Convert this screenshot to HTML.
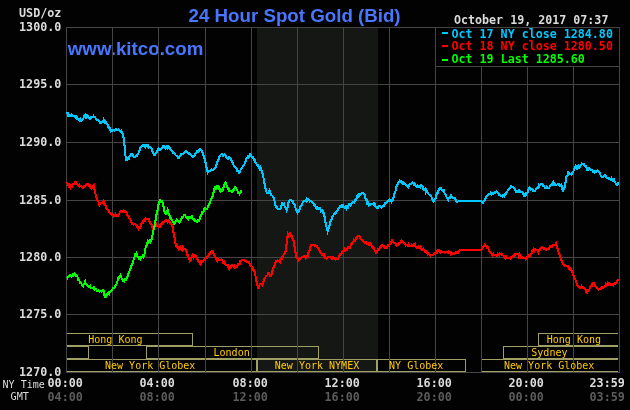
<!DOCTYPE html>
<html lang="en"><head><meta charset="utf-8"><title>24 Hour Spot Gold (Bid)</title>
<style>
html,body{margin:0;padding:0;background:#030203;}
body{width:630px;height:410px;overflow:hidden;}
svg{display:block;}
.mb{font-family:"DejaVu Sans Mono","Liberation Mono",monospace;font-weight:bold;font-size:11.4px;}
.ms{font-family:"DejaVu Sans Mono","Liberation Mono",monospace;font-weight:normal;font-size:10.7px;}
.ar{font-family:"Liberation Sans",Arial,sans-serif;font-weight:bold;font-size:18.7px;fill:#4876ff;}
</style></head><body>
<svg width="630" height="410" viewBox="0 0 630 410">
<rect x="0" y="0" width="630" height="410" fill="#030203"/>
<rect x="257" y="27" width="121" height="346" fill="#151714"/>
<text class="ar" x="188.6" y="21.7" textLength="212" lengthAdjust="spacing">24 Hour Spot Gold (Bid)</text>
<text class="ar" x="67.8" y="54.9" textLength="135.5" lengthAdjust="spacing">www.kitco.com</text>
<path d="M66.5,333.5 H192.5 V345.5 H66.5 Z M66.5,346.5 H88.5 V358.5 H66.5 Z M146.5,346.5 H318.5 V358.5 H146.5 Z M66.5,359.5 H256.5 V371.5 H66.5 Z M257.5,359.5 H376.5 V371.5 H257.5 Z M377.5,359.5 H465.5 V371.5 H377.5 Z M618,333.5 H538.5 V345.5 H618 M618,346.5 H503.5 V358.5 H618 M618,359.5 H481.5 V371.5 H618" stroke="#a0a064" stroke-width="1" fill="none" shape-rendering="crispEdges"/>
<path d="M66.5,27 V373 M112.5,27 V373 M158.5,27 V373 M205.5,27 V373 M251.5,27 V373 M297.5,27 V373 M343.5,27 V373 M389.5,27 V373 M435.5,27 V373 M481.5,27 V373 M527.5,27 V373 M573.5,27 V373 M619.5,27 V373 M66,27.5 H620 M66,84.5 H620 M66,142.5 H620 M66,200.5 H620 M66,257.5 H620 M66,314.5 H620 M66,372.5 H620" stroke="#454545" stroke-width="1" fill="none" shape-rendering="crispEdges"/>
<text class="ms" x="88.2" y="343" fill="#ffcc00" textLength="54.4" lengthAdjust="spacingAndGlyphs" xml:space="preserve">Hong Kong</text>
<text class="ms" x="213.4" y="356" fill="#ffcc00" textLength="36.4" lengthAdjust="spacingAndGlyphs" xml:space="preserve">London</text>
<text class="ms" x="105" y="369" fill="#ffcc00" textLength="90.4" lengthAdjust="spacingAndGlyphs" xml:space="preserve">New York Globex</text>
<text class="ms" x="274.8" y="369" fill="#ffcc00" textLength="84.4" lengthAdjust="spacingAndGlyphs" xml:space="preserve">New York NYMEX</text>
<text class="ms" x="389" y="369" fill="#ffcc00" textLength="54.4" lengthAdjust="spacingAndGlyphs" xml:space="preserve">NY Globex</text>
<text class="ms" x="546.7" y="343" fill="#ffcc00" textLength="54.4" lengthAdjust="spacingAndGlyphs" xml:space="preserve">Hong Kong</text>
<text class="ms" x="531.2" y="356" fill="#ffcc00" textLength="36.4" lengthAdjust="spacingAndGlyphs" xml:space="preserve">Sydney</text>
<text class="ms" x="504" y="369" fill="#ffcc00" textLength="90.4" lengthAdjust="spacingAndGlyphs" xml:space="preserve">New York Globex</text>
<path d="M67.0,112.3 L67.0,112.3 L67.8,114.8 L68.5,113.9 L69.2,115.9 L69.8,115.8 L70.5,115.2 L71.3,114.7 L72.0,115.5 L72.8,115.5 L73.5,116.2 L74.3,116.0 L75.1,117.3 L75.8,116.1 L76.6,116.5 L77.3,119.2 L78.1,118.9 L78.9,119.2 L79.7,120.5 L80.5,119.0 L81.3,120.8 L82.1,119.5 L83.0,119.0 L83.8,117.3 L84.4,116.0 L85.1,117.2 L85.7,115.4 L86.4,117.0 L87.2,115.3 L87.9,115.9 L88.6,117.7 L89.3,117.9 L90.0,118.9 L90.7,117.5 L91.4,117.9 L92.1,117.0 L92.8,117.4 L93.6,116.2 L94.3,117.3 L95.0,117.2 L95.7,118.4 L96.4,119.2 L97.1,119.8 L97.9,120.0 L98.8,120.8 L99.6,121.6 L100.4,123.2 L101.2,122.6 L102.1,121.7 L102.9,121.7 L103.5,120.0 L104.2,121.7 L104.8,120.4 L105.6,121.8 L106.4,123.3 L107.2,124.2 L107.8,124.5 L108.5,127.6 L109.1,127.4 L109.7,129.6 L110.4,128.9 L111.0,131.2 L111.8,130.3 L112.5,130.9 L113.3,129.9 L114.0,130.2 L114.8,130.5 L115.5,128.9 L116.2,128.8 L116.9,130.0 L117.6,130.0 L118.3,129.4 L119.0,130.3 L119.8,130.7 L120.5,131.6 L121.3,130.7 L122.1,133.3 L122.9,134.1 L123.6,137.9 L124.2,141.7 L125.1,153.1 L125.7,157.2 L126.3,160.8 L126.9,159.1 L127.6,159.8 L128.2,158.1 L128.9,158.4 L129.5,156.6 L130.3,155.5 L131.2,154.1 L132.0,154.1 L132.8,155.2 L133.5,156.6 L134.3,157.0 L135.1,157.1 L136.0,156.0 L136.8,156.0 L137.7,154.4 L138.5,153.1 L139.1,151.2 L139.8,150.0 L140.4,147.4 L141.2,146.7 L142.1,145.6 L142.9,145.1 L143.7,145.7 L144.5,145.1 L145.3,147.0 L146.2,145.3 L147.1,146.5 L148.0,145.5 L148.8,147.3 L149.7,146.7 L150.5,147.0 L151.1,148.1 L151.8,148.9 L152.4,151.2 L153.0,152.4 L153.7,154.8 L154.3,154.7 L154.9,154.8 L155.6,153.5 L156.2,152.8 L157.0,152.3 L157.9,149.2 L158.7,148.4 L159.5,148.7 L160.2,150.2 L161.0,149.3 L161.7,148.7 L162.4,147.5 L163.1,146.2 L163.8,145.9 L164.6,146.9 L165.5,148.8 L166.3,148.4 L167.1,146.6 L167.8,148.2 L168.6,147.0 L169.3,148.5 L170.0,148.4 L170.8,150.3 L171.5,150.9 L172.3,151.2 L173.1,153.0 L174.0,153.2 L174.8,154.1 L175.6,155.2 L176.4,155.8 L177.2,155.8 L178.0,157.9 L178.8,158.0 L179.7,156.4 L180.5,155.4 L181.2,154.1 L181.9,154.5 L182.6,153.9 L183.3,153.5 L184.0,152.6 L184.8,151.9 L185.5,151.9 L186.2,151.2 L186.9,152.2 L187.6,152.9 L188.3,153.3 L189.0,154.1 L189.8,153.4 L190.6,154.4 L191.3,154.8 L192.1,156.3 L192.9,156.6 L193.6,156.7 L194.3,155.6 L195.0,154.7 L195.7,153.1 L196.4,153.2 L197.1,151.1 L197.9,151.9 L198.6,150.3 L199.3,150.9 L200.0,149.5 L200.7,149.5 L201.4,150.9 L202.2,151.3 L203.1,155.0 L203.9,156.0 L204.5,158.2 L205.2,160.7 L205.8,164.6 L206.4,167.5 L207.1,169.3 L207.7,172.2 L208.4,170.7 L209.1,170.6 L209.7,171.1 L210.4,170.7 L211.2,169.5 L211.9,169.4 L212.7,170.2 L213.4,169.3 L214.2,168.5 L214.9,167.6 L215.7,167.4 L216.3,165.4 L217.0,162.4 L217.6,161.7 L218.4,159.5 L219.1,157.7 L219.9,156.0 L220.7,154.7 L221.6,154.0 L222.4,154.5 L223.1,155.7 L223.8,154.8 L224.5,154.1 L225.2,155.0 L226.0,156.6 L226.9,158.4 L227.7,158.9 L228.4,157.6 L229.1,157.4 L229.9,157.7 L230.6,158.5 L231.4,160.8 L232.1,161.0 L232.9,163.6 L233.6,165.1 L234.3,166.0 L235.0,166.6 L235.7,167.4 L236.5,167.9 L237.4,171.2 L238.2,171.2 L238.8,172.9 L239.5,173.1 L240.1,171.6 L240.8,169.2 L241.4,168.4 L242.1,167.8 L242.9,166.2 L243.6,165.7 L244.3,164.6 L245.0,162.5 L245.7,161.6 L246.4,158.4 L247.1,157.9 L247.8,156.4 L248.6,157.2 L249.3,156.0 L250.0,154.1 L250.8,154.6 L251.5,157.0 L252.3,157.0 L253.1,157.4 L254.0,160.0 L254.8,159.8 L255.4,162.0 L256.1,162.8 L256.7,164.6 L257.3,164.9 L258.0,165.2 L258.6,167.4 L259.4,168.7 L260.2,166.9 L261.0,168.4 L261.7,171.1 L262.3,173.4 L263.0,174.1 L263.6,178.6 L264.3,182.7 L264.9,184.7 L265.6,189.3 L266.2,191.2 L266.8,193.0 L267.5,192.8 L268.1,192.8 L268.8,191.6 L269.4,190.3 L270.2,192.3 L271.0,195.0 L271.7,195.3 L272.4,195.7 L273.1,197.6 L273.8,197.9 L274.4,200.6 L275.1,202.8 L275.7,206.5 L276.5,206.4 L277.4,208.8 L278.2,209.3 L279.0,208.5 L279.7,208.7 L280.5,208.4 L281.1,205.9 L281.7,205.2 L282.3,202.2 L283.1,204.8 L284.0,204.1 L284.8,207.0 L285.4,207.3 L286.1,208.7 L286.7,210.2 L287.3,208.8 L288.0,205.6 L288.6,202.2 L289.4,201.0 L290.2,199.9 L291.0,199.9 L291.7,200.8 L292.3,201.6 L293.0,201.2 L293.7,204.3 L294.5,204.7 L295.2,207.0 L296.0,209.9 L296.9,211.3 L297.7,212.7 L298.5,211.1 L299.2,210.8 L300.0,207.9 L300.8,205.6 L301.7,205.3 L302.5,203.1 L303.4,201.2 L304.2,200.6 L305.1,200.7 L305.9,201.4 L306.6,199.3 L307.4,200.3 L308.2,199.3 L309.0,200.2 L309.7,201.5 L310.5,201.2 L311.2,201.3 L311.9,201.7 L312.6,202.1 L313.3,203.1 L313.9,204.7 L314.6,204.6 L315.2,205.0 L315.8,207.5 L316.5,208.6 L317.1,208.9 L317.7,207.6 L318.4,208.4 L319.0,207.9 L319.7,207.8 L320.3,208.6 L321.0,210.8 L321.8,209.9 L322.6,212.1 L323.4,211.3 L324.1,215.1 L324.8,217.4 L325.5,222.6 L326.1,226.0 L326.9,228.1 L327.6,231.1 L328.4,228.8 L329.1,226.0 L329.7,224.8 L330.4,221.9 L331.0,220.3 L331.8,218.9 L332.5,216.4 L333.3,215.5 L334.0,213.5 L334.8,213.0 L335.5,213.7 L336.2,211.7 L336.9,210.9 L337.6,210.9 L338.3,208.7 L339.0,207.9 L339.8,206.6 L340.5,207.1 L341.3,205.6 L342.1,206.9 L343.0,205.3 L343.8,207.0 L344.6,207.9 L345.5,206.8 L346.3,208.3 L347.1,206.4 L347.8,207.5 L348.6,205.6 L349.3,203.9 L350.0,204.0 L350.7,205.4 L351.4,203.7 L352.1,203.1 L352.9,202.0 L353.6,201.7 L354.3,202.2 L354.9,200.6 L355.6,200.9 L356.2,199.3 L356.8,196.8 L357.5,197.5 L358.1,195.0 L358.8,194.3 L359.6,195.5 L360.3,195.0 L361.0,193.6 L361.8,192.9 L362.6,192.6 L363.4,193.0 L364.0,194.4 L364.7,194.9 L365.3,197.4 L365.9,199.7 L366.6,200.0 L367.2,203.1 L368.0,202.5 L368.7,205.6 L369.5,205.0 L370.2,204.1 L370.9,204.6 L371.7,203.9 L372.4,203.7 L373.1,203.5 L373.8,203.2 L374.5,205.7 L375.2,205.0 L376.0,207.3 L376.7,208.4 L377.5,208.3 L378.3,206.5 L379.2,206.0 L380.0,206.0 L380.7,206.4 L381.4,207.4 L382.2,206.4 L382.9,206.4 L383.6,206.1 L384.3,205.2 L385.0,203.3 L385.7,203.1 L386.4,202.7 L387.1,201.6 L387.9,201.0 L388.6,201.2 L389.3,200.0 L390.0,201.0 L390.7,200.2 L391.4,201.7 L392.2,200.0 L392.9,199.9 L393.5,197.6 L394.2,194.9 L394.8,191.9 L395.6,190.8 L396.4,187.1 L397.2,185.2 L398.1,183.1 L399.0,181.6 L399.9,180.5 L400.7,180.7 L401.6,182.7 L402.4,182.4 L403.1,183.9 L403.8,182.8 L404.5,183.4 L405.2,184.3 L405.9,185.1 L406.6,185.9 L407.4,186.6 L408.1,187.1 L408.9,185.5 L409.8,184.0 L410.6,184.3 L411.4,183.3 L412.1,182.5 L412.9,183.3 L413.6,184.1 L414.3,183.4 L415.0,184.1 L415.7,185.8 L416.4,186.3 L417.1,185.5 L417.9,186.9 L418.6,186.2 L419.5,186.1 L420.3,186.9 L421.1,185.0 L422.0,185.8 L422.8,187.2 L423.5,189.4 L424.3,190.0 L425.0,189.2 L425.7,191.7 L426.4,189.9 L427.1,191.0 L427.8,192.7 L428.6,194.2 L429.3,194.7 L430.0,194.8 L430.8,195.9 L431.5,196.9 L432.3,199.5 L432.9,200.0 L433.6,201.6 L434.2,201.0 L434.8,198.7 L435.5,198.5 L436.1,195.7 L436.9,192.9 L437.8,193.0 L438.6,190.0 L439.4,188.3 L440.2,188.5 L441.0,188.5 L441.9,190.2 L442.8,190.6 L443.7,190.4 L444.4,192.9 L445.1,194.2 L445.8,194.8 L446.6,197.1 L447.3,198.7 L448.1,199.9 L448.7,198.3 L449.4,198.2 L450.0,197.6 L450.6,195.6 L451.3,195.3 L451.9,196.8 L452.6,197.5 L453.2,198.0 L454.0,198.0 L454.9,198.1 L455.7,199.9 L456.5,201.6 L457.4,201.7 L458.2,201.4 L481.4,201.4 L482.2,202.3 L483.0,203.0 L483.6,201.8 L484.3,201.3 L484.9,199.1 L485.8,197.8 L486.6,196.6 L487.5,195.7 L488.3,194.8 L489.2,194.1 L490.0,194.2 L490.8,192.8 L491.5,194.3 L492.3,193.5 L493.0,193.7 L493.8,193.4 L494.6,192.0 L495.3,192.6 L496.1,191.8 L496.8,191.5 L497.6,192.3 L498.3,192.6 L499.1,195.1 L499.8,194.9 L500.5,196.1 L501.4,195.8 L502.2,196.4 L503.0,195.4 L503.9,196.1 L504.4,194.4 L505.0,195.2 L505.7,193.9 L506.4,192.6 L507.2,191.6 L507.9,189.9 L508.6,188.9 L509.3,188.8 L510.0,188.1 L510.7,186.7 L511.4,186.1 L512.1,186.9 L512.9,187.0 L513.6,187.2 L514.4,187.9 L515.2,189.8 L516.0,191.4 L516.7,191.3 L517.4,192.0 L518.0,191.8 L518.7,190.5 L519.5,190.5 L520.4,192.1 L521.2,192.4 L521.9,192.0 L522.6,192.9 L523.3,194.8 L524.0,195.6 L524.7,196.0 L525.5,193.6 L526.2,194.6 L526.9,193.3 L527.7,192.4 L528.6,189.0 L529.4,187.6 L530.2,188.6 L530.9,189.5 L531.7,189.1 L532.5,189.5 L533.2,191.2 L534.0,191.4 L534.8,191.1 L535.6,189.8 L536.4,188.6 L537.2,188.4 L538.1,187.4 L538.9,185.3 L539.5,186.0 L540.2,184.5 L540.8,183.8 L541.6,183.6 L542.3,184.4 L543.1,185.7 L543.8,185.5 L544.5,187.0 L545.3,188.1 L546.0,188.0 L546.8,186.7 L547.6,188.3 L548.4,188.3 L549.2,187.6 L550.0,186.1 L550.9,185.4 L551.7,184.2 L552.4,183.2 L553.1,184.6 L553.8,182.7 L554.5,183.8 L555.4,185.2 L556.2,184.8 L557.1,184.4 L558.0,184.2 L558.8,183.7 L559.6,185.6 L560.4,185.8 L561.2,184.8 L561.8,185.8 L562.5,189.3 L563.1,190.5 L563.7,189.8 L564.4,187.7 L565.0,185.7 L565.6,181.9 L566.3,177.1 L566.9,175.5 L567.6,175.3 L568.2,172.8 L569.0,174.5 L569.9,173.5 L570.7,174.3 L571.5,174.5 L572.4,172.9 L573.2,172.4 L573.8,169.9 L574.5,168.7 L575.1,167.6 L575.7,166.3 L576.4,168.1 L577.0,166.7 L577.8,168.2 L578.5,166.3 L579.3,167.6 L579.9,166.9 L580.6,165.5 L581.2,164.8 L581.8,163.5 L582.5,163.6 L583.1,163.8 L583.7,163.8 L584.4,165.7 L585.0,165.7 L585.8,165.9 L586.5,167.8 L587.3,170.1 L588.1,169.6 L589.0,168.1 L589.8,169.0 L590.6,169.8 L591.4,170.3 L592.2,170.5 L593.1,172.0 L594.0,171.0 L594.9,172.4 L595.7,171.4 L596.5,171.6 L597.2,170.4 L598.0,170.5 L598.6,171.9 L599.3,172.1 L599.9,173.9 L600.6,175.3 L601.4,176.5 L602.1,176.6 L602.8,177.1 L603.5,177.1 L604.3,175.7 L605.0,175.2 L605.7,175.9 L606.5,177.6 L607.2,178.1 L607.9,178.1 L608.6,178.7 L609.3,178.5 L610.0,178.7 L610.7,179.6 L611.5,178.4 L612.4,180.0 L613.2,179.0 L613.8,179.1 L614.5,181.8 L615.1,182.3 L615.9,183.9 L616.6,185.3 L617.5,185.0 L618.3,182.3" stroke="#00c8ff" stroke-width="2.1" fill="none" stroke-linejoin="miter" stroke-linecap="butt" shape-rendering="crispEdges"/>
<path d="M67.0,182.0 L67.0,182.0 L67.6,183.8 L68.3,185.8 L69.0,186.6 L69.8,185.0 L70.5,187.0 L71.3,184.9 L72.2,185.9 L73.0,184.0 L73.7,183.9 L74.5,183.0 L75.2,181.8 L75.9,182.1 L76.7,183.7 L77.4,184.5 L78.1,185.0 L78.7,185.7 L79.4,185.0 L80.0,186.4 L80.8,186.2 L81.5,186.1 L82.3,186.9 L83.0,187.6 L83.8,186.3 L84.6,186.9 L85.4,185.2 L86.2,184.4 L87.0,183.9 L87.7,183.9 L88.3,184.0 L89.0,185.8 L89.8,185.5 L90.6,187.5 L91.4,188.5 L92.3,186.9 L93.1,185.9 L94.0,185.0 L94.5,189.4 L94.9,191.7 L95.6,194.4 L96.4,197.1 L97.1,199.5 L97.9,200.7 L98.6,202.1 L99.4,205.2 L100.1,204.1 L100.8,203.0 L101.5,203.3 L102.3,202.7 L103.0,203.3 L103.8,201.4 L104.4,203.5 L105.1,203.8 L105.7,206.2 L106.5,208.4 L107.2,209.2 L108.0,209.6 L108.8,211.3 L109.7,212.9 L110.5,212.9 L111.2,214.2 L111.9,214.9 L112.6,214.3 L113.3,215.3 L114.0,216.4 L114.8,216.3 L115.5,214.0 L116.2,214.8 L116.8,215.8 L117.5,216.0 L118.1,215.7 L118.9,214.0 L119.8,212.6 L120.6,211.0 L121.5,210.8 L122.3,211.7 L123.2,210.4 L124.0,210.8 L124.9,212.0 L125.7,211.5 L126.5,212.5 L127.4,215.3 L128.2,215.7 L129.0,218.1 L129.7,218.4 L130.5,219.9 L131.3,221.5 L132.0,223.9 L132.8,224.3 L133.6,224.9 L134.3,224.3 L135.1,223.6 L135.8,224.3 L136.7,225.4 L137.6,228.0 L138.5,229.0 L139.3,226.9 L140.2,227.5 L141.0,225.2 L141.8,223.0 L142.6,223.1 L143.4,220.5 L144.2,219.4 L144.9,220.4 L145.7,218.6 L146.4,219.3 L147.1,218.9 L147.9,219.0 L148.6,219.1 L149.2,220.9 L149.9,222.1 L150.5,223.3 L151.3,224.4 L152.0,225.7 L152.8,228.1 L153.4,226.9 L154.1,226.7 L154.7,224.3 L155.4,224.9 L156.1,223.8 L156.8,225.2 L157.5,226.4 L158.3,226.5 L159.0,226.2 L159.7,226.8 L160.4,224.4 L161.2,225.4 L161.9,224.3 L162.7,222.2 L163.6,222.8 L164.4,221.4 L165.3,220.7 L166.1,220.4 L167.0,221.0 L167.8,222.3 L168.6,220.7 L169.3,222.1 L170.1,222.4 L170.6,223.9 L171.0,223.6 L171.6,224.5 L172.3,226.0 L172.9,228.3 L173.6,233.1 L174.2,236.0 L174.9,240.0 L175.7,244.5 L176.4,246.2 L177.1,245.5 L177.9,247.4 L178.6,248.9 L179.3,247.9 L180.0,249.0 L180.7,247.4 L181.4,248.3 L182.1,249.6 L182.9,247.4 L183.6,249.3 L184.3,248.9 L185.1,248.7 L186.0,250.4 L186.8,252.1 L187.4,254.8 L188.1,255.1 L188.7,257.9 L189.3,258.7 L190.0,261.1 L190.6,260.2 L191.3,258.0 L191.9,256.9 L192.7,255.2 L193.6,257.2 L194.4,255.4 L195.2,255.5 L195.9,256.2 L196.7,258.4 L197.5,259.1 L198.2,260.9 L199.0,261.7 L199.6,263.1 L200.3,262.3 L200.9,264.1 L201.7,262.5 L202.5,260.6 L203.3,260.7 L204.0,259.7 L204.8,259.7 L205.5,258.8 L206.2,257.3 L206.9,257.5 L207.6,256.3 L208.3,255.8 L209.0,254.0 L209.8,253.8 L210.7,252.5 L211.5,251.2 L212.3,251.2 L212.9,252.9 L213.6,253.3 L214.2,255.0 L215.0,255.7 L215.9,258.4 L216.7,260.3 L217.4,261.1 L218.1,259.1 L218.8,260.1 L219.5,259.8 L220.2,259.7 L220.9,260.3 L221.7,259.5 L222.4,260.7 L223.2,262.9 L224.1,262.0 L224.9,263.6 L225.6,264.5 L226.4,264.7 L227.1,265.5 L227.9,265.5 L228.6,268.2 L229.4,269.3 L230.0,267.4 L230.7,266.2 L231.3,266.4 L232.1,265.3 L233.0,265.8 L233.8,266.8 L234.4,265.9 L235.1,267.6 L235.7,267.4 L236.5,266.3 L237.4,266.5 L238.2,264.1 L238.9,264.5 L239.6,263.9 L240.2,261.2 L240.9,261.1 L241.7,260.5 L242.5,259.6 L243.3,259.8 L244.1,260.3 L245.0,260.7 L245.8,260.7 L246.6,261.8 L247.3,261.9 L248.1,261.7 L248.7,262.1 L249.4,263.6 L250.0,264.9 L250.8,266.4 L251.5,266.5 L252.3,269.3 L252.9,268.5 L253.6,269.9 L254.2,270.6 L254.9,272.7 L255.7,276.9 L256.4,281.3 L257.2,284.5 L257.8,286.0 L258.4,288.9 L259.1,285.7 L259.9,284.5 L260.7,283.9 L261.6,284.2 L262.4,285.1 L263.0,282.3 L263.7,281.0 L264.3,278.8 L265.1,277.6 L266.0,276.2 L266.8,275.6 L267.5,275.1 L268.3,273.2 L269.0,273.1 L269.7,275.1 L270.3,276.2 L271.0,276.0 L271.6,274.4 L272.3,271.4 L272.9,269.3 L273.6,267.4 L274.4,265.7 L275.1,263.6 L275.9,261.3 L276.8,261.2 L277.6,260.3 L278.4,260.9 L279.2,260.5 L280.0,261.8 L280.8,259.2 L281.6,259.4 L282.5,256.7 L283.3,255.5 L284.1,253.8 L285.0,253.2 L285.8,250.4 L286.3,246.2 L286.8,241.5 L287.3,237.3 L287.8,234.1 L288.5,235.4 L289.2,233.8 L289.9,232.8 L290.6,234.1 L291.2,236.0 L291.9,235.9 L292.5,238.3 L293.4,240.0 L294.2,242.8 L294.6,247.5 L295.1,250.4 L295.7,254.0 L296.3,256.7 L297.0,256.7 L297.8,259.2 L298.5,260.6 L299.3,259.6 L300.2,259.0 L301.0,258.3 L301.7,256.9 L302.5,257.3 L303.2,256.4 L304.0,255.8 L304.9,256.9 L305.7,258.0 L306.5,256.6 L307.4,257.1 L308.2,254.9 L308.8,251.1 L309.5,250.2 L310.1,246.9 L310.9,245.5 L311.6,245.8 L312.4,245.0 L313.1,244.8 L313.8,245.1 L314.5,246.0 L315.2,245.4 L316.0,246.1 L316.9,246.4 L317.7,248.4 L318.5,248.5 L319.2,249.5 L320.0,251.7 L320.7,253.2 L321.4,253.3 L322.2,254.7 L322.9,254.1 L323.6,255.7 L324.3,255.0 L325.0,257.7 L325.7,258.3 L326.4,258.6 L327.1,258.1 L327.9,257.2 L328.6,256.8 L329.4,256.8 L330.2,257.5 L331.0,258.0 L331.8,258.6 L332.5,257.0 L333.3,257.4 L334.0,257.9 L334.8,258.3 L335.5,260.0 L336.2,259.3 L336.9,259.4 L337.6,259.0 L338.3,258.0 L339.0,256.4 L339.7,255.0 L340.4,254.0 L341.2,253.8 L341.9,253.0 L342.6,251.4 L343.4,250.9 L344.1,250.6 L344.8,249.2 L345.5,250.2 L346.2,249.2 L346.9,249.7 L347.6,248.8 L348.3,247.0 L349.1,247.0 L349.8,248.0 L350.5,246.0 L351.2,244.1 L351.9,243.8 L352.6,241.9 L353.3,242.1 L354.0,239.9 L354.8,241.0 L355.5,240.1 L356.2,237.8 L356.9,237.8 L357.6,236.1 L358.3,236.2 L359.0,236.4 L359.8,236.7 L360.7,238.8 L361.5,239.3 L362.4,240.7 L363.3,241.0 L364.2,242.1 L365.0,242.8 L365.9,242.4 L366.7,244.0 L367.5,243.9 L368.3,244.8 L369.1,243.5 L369.9,244.8 L370.6,243.7 L371.4,245.4 L372.1,246.4 L372.9,247.9 L373.6,247.6 L374.3,249.2 L374.9,251.4 L375.6,251.4 L376.2,252.6 L376.8,252.0 L377.5,250.1 L378.1,249.2 L378.9,249.6 L379.8,248.1 L380.6,246.5 L381.4,246.5 L382.1,245.2 L382.9,246.0 L383.6,246.5 L384.4,246.0 L385.1,247.9 L385.9,247.5 L386.8,247.6 L387.6,246.0 L388.4,244.6 L389.2,244.9 L390.0,244.3 L390.6,243.0 L391.3,241.5 L391.9,240.5 L392.6,241.6 L393.4,242.8 L394.1,242.8 L394.8,242.8 L395.5,243.3 L396.2,245.2 L396.9,244.2 L397.6,245.2 L398.2,245.0 L398.9,244.0 L399.5,242.8 L400.1,242.7 L400.8,242.2 L401.4,240.5 L402.2,240.6 L402.9,242.3 L403.7,242.8 L404.5,243.0 L405.2,244.2 L406.0,245.5 L406.8,244.7 L407.7,245.6 L408.5,244.4 L409.4,246.2 L410.2,245.6 L411.1,245.8 L411.9,244.7 L412.5,245.4 L413.2,244.6 L413.8,243.9 L414.4,245.6 L415.1,244.4 L415.7,246.6 L416.4,247.7 L417.1,247.0 L417.9,246.6 L418.6,246.2 L419.3,247.8 L420.0,248.4 L420.7,246.9 L421.4,248.5 L422.1,249.8 L422.9,250.1 L423.6,249.1 L424.3,250.4 L425.0,251.7 L425.7,251.9 L426.4,251.5 L427.1,252.9 L427.9,254.5 L428.8,253.6 L429.6,255.3 L430.4,255.6 L431.2,255.1 L432.1,254.7 L432.9,255.3 L433.7,254.7 L434.5,253.6 L435.3,252.9 L436.1,251.5 L436.8,252.8 L437.6,251.0 L438.4,250.0 L439.1,249.9 L439.9,251.3 L440.6,252.3 L441.4,251.5 L442.2,252.1 L442.9,252.5 L443.7,251.9 L444.4,252.6 L445.2,252.3 L446.0,252.0 L446.7,251.9 L447.5,252.5 L448.2,251.4 L449.0,252.7 L449.9,252.0 L450.8,254.1 L451.6,253.0 L452.5,254.2 L453.3,254.4 L454.1,254.0 L454.9,252.5 L455.7,252.3 L456.4,252.6 L457.1,252.6 L457.9,252.6 L458.6,251.5 L459.4,250.2 L460.1,249.9 L460.9,250.4 L481.4,250.4 L482.0,248.8 L482.7,247.8 L483.3,246.6 L483.9,245.8 L484.6,244.8 L485.2,245.8 L486.0,246.2 L486.7,247.5 L487.5,246.6 L488.1,247.7 L488.8,249.6 L489.4,251.0 L490.2,251.8 L491.1,253.0 L491.9,254.2 L492.6,255.3 L493.4,254.0 L494.1,255.0 L494.8,254.8 L495.6,254.8 L496.3,255.0 L497.1,256.0 L497.8,253.9 L498.6,255.0 L499.3,255.4 L500.0,253.7 L500.7,254.2 L501.4,253.4 L502.0,254.9 L502.7,255.3 L503.3,255.7 L504.1,256.3 L505.0,257.4 L505.7,258.5 L506.4,256.8 L507.2,258.4 L507.9,258.3 L508.6,257.8 L509.3,257.9 L510.0,258.5 L510.7,257.4 L511.6,257.7 L512.4,256.8 L513.2,255.5 L514.1,255.5 L514.9,254.4 L515.8,254.6 L516.6,253.7 L517.4,254.0 L518.1,253.9 L518.8,256.1 L519.5,254.4 L520.2,255.9 L520.9,257.2 L521.7,256.5 L522.4,257.0 L523.1,257.8 L523.9,257.8 L524.8,257.7 L525.6,259.3 L526.4,258.6 L527.1,257.2 L527.9,257.4 L528.6,256.3 L529.3,255.0 L530.0,255.6 L530.7,253.6 L531.4,253.6 L532.2,251.3 L532.9,250.8 L533.6,249.4 L534.4,250.7 L535.1,249.2 L535.9,249.8 L536.7,249.7 L537.5,251.0 L538.3,252.6 L539.1,250.2 L540.0,249.9 L540.8,247.9 L541.6,247.4 L542.3,247.3 L543.1,247.5 L543.9,248.9 L544.6,248.1 L545.4,249.4 L546.2,250.0 L547.1,249.3 L547.9,248.8 L548.6,247.8 L549.3,248.2 L550.0,246.3 L550.7,246.0 L551.4,246.7 L552.2,246.6 L552.9,245.3 L553.6,245.0 L554.4,244.9 L555.2,244.9 L556.0,243.1 L556.7,246.1 L557.4,247.9 L558.0,250.5 L558.7,252.7 L559.3,253.6 L559.9,256.6 L560.6,258.1 L561.2,259.3 L561.8,262.3 L562.5,262.3 L563.1,264.6 L563.9,265.2 L564.8,265.6 L565.6,265.4 L566.4,265.7 L567.1,266.4 L567.9,267.3 L568.6,266.7 L569.3,269.0 L570.0,267.7 L570.7,268.4 L571.3,269.7 L572.0,272.2 L572.6,272.6 L573.2,273.7 L573.9,277.6 L574.5,278.3 L575.3,279.6 L576.2,281.5 L577.0,285.0 L577.8,285.4 L578.5,286.3 L579.3,287.5 L580.1,288.2 L580.8,287.7 L581.6,286.3 L582.4,287.5 L583.2,287.2 L584.0,287.9 L584.7,289.2 L585.5,289.6 L586.2,292.3 L586.9,292.6 L587.5,291.4 L588.2,290.2 L588.8,289.8 L589.6,288.9 L590.3,286.4 L591.1,286.0 L591.7,284.6 L592.4,285.2 L593.0,283.1 L593.8,283.3 L594.7,284.7 L595.5,286.9 L596.2,286.8 L596.9,287.5 L597.6,288.6 L598.3,289.4 L599.0,288.6 L599.8,288.7 L600.5,288.3 L601.2,288.8 L601.9,287.6 L602.6,288.1 L603.3,286.9 L604.0,286.9 L604.7,285.9 L605.5,286.3 L606.2,283.9 L606.9,284.4 L607.5,283.0 L608.2,284.4 L608.8,283.1 L609.6,283.6 L610.5,285.1 L611.3,285.0 L612.0,283.9 L612.6,284.8 L613.3,285.4 L614.0,284.4 L614.8,283.2 L615.6,283.6 L616.4,282.1 L617.2,281.5 L617.9,280.0 L618.7,279.3" stroke="#ff0000" stroke-width="2.1" fill="none" stroke-linejoin="miter" stroke-linecap="butt" shape-rendering="crispEdges"/>
<path d="M67.0,278.5 L67.2,278.5 L68.0,276.7 L68.7,276.4 L69.5,275.2 L70.3,275.3 L71.0,276.4 L71.8,276.6 L72.6,276.3 L73.3,274.2 L74.1,273.5 L74.9,274.1 L75.6,275.8 L76.4,275.1 L77.1,276.6 L77.7,277.2 L78.4,280.4 L79.0,280.4 L79.7,281.3 L80.3,283.1 L81.0,283.2 L81.6,284.1 L82.3,285.5 L82.9,286.1 L83.6,283.7 L84.4,283.5 L85.1,281.7 L85.7,283.7 L86.4,283.8 L87.0,284.8 L87.8,286.2 L88.7,286.7 L89.5,287.0 L90.2,286.1 L91.0,288.2 L91.7,288.0 L92.4,288.0 L93.1,287.7 L93.8,287.3 L94.5,289.7 L95.2,289.0 L95.9,289.3 L96.7,290.3 L97.4,291.1 L98.1,290.5 L98.8,291.2 L99.5,291.9 L100.3,290.8 L101.0,291.2 L101.8,291.5 L102.6,290.2 L103.4,289.9 L104.2,294.6 L105.0,297.0 L105.7,297.2 L106.5,294.4 L107.2,294.7 L107.9,293.0 L108.6,292.5 L109.2,293.7 L109.9,291.8 L110.7,290.8 L111.6,290.5 L112.4,289.3 L113.1,288.1 L113.8,288.0 L114.5,287.1 L115.2,286.7 L115.8,284.8 L116.5,284.0 L117.1,282.3 L117.9,279.9 L118.7,277.1 L119.3,277.5 L120.0,276.3 L120.6,275.2 L121.2,277.6 L121.9,278.7 L122.5,279.0 L123.1,281.0 L123.8,281.0 L124.4,281.3 L125.2,279.3 L125.9,280.0 L126.7,277.9 L127.3,277.4 L128.0,275.6 L128.6,272.8 L129.4,271.2 L130.1,269.9 L130.9,267.6 L131.5,265.1 L132.2,264.9 L132.8,262.3 L133.4,260.6 L134.1,257.9 L134.7,256.6 L135.3,254.5 L136.0,255.6 L136.6,253.7 L137.3,256.6 L138.1,256.9 L138.7,256.7 L139.4,259.3 L140.0,259.4 L140.6,258.3 L141.3,256.8 L141.9,256.9 L142.5,256.1 L143.2,257.1 L143.8,256.2 L144.6,253.6 L145.3,249.0 L145.9,245.9 L146.6,245.4 L147.2,243.2 L147.8,241.4 L148.5,242.5 L149.1,241.3 L149.7,240.6 L150.4,241.7 L151.0,240.4 L151.7,239.2 L152.4,235.6 L153.1,232.3 L153.7,229.0 L154.3,227.1 L155.1,223.6 L155.8,217.6 L156.7,213.8 L157.5,211.0 L158.2,205.6 L159.0,202.4 L159.7,202.2 L160.3,200.2 L161.0,200.9 L161.6,200.9 L162.3,202.3 L162.9,203.3 L163.7,207.4 L164.4,211.0 L165.1,212.0 L165.7,214.8 L166.3,212.0 L167.0,212.6 L167.6,210.0 L168.2,211.4 L168.9,215.0 L169.5,215.7 L170.1,217.9 L170.8,217.6 L171.4,219.1 L172.2,220.5 L173.1,222.2 L173.9,223.7 L174.8,222.8 L175.7,221.4 L176.6,219.9 L177.4,220.6 L178.2,221.2 L179.0,221.4 L179.5,222.6 L180.2,222.3 L180.9,219.8 L181.7,218.1 L182.4,216.9 L183.1,217.0 L183.8,215.3 L184.5,215.0 L185.2,215.0 L185.9,217.2 L186.6,217.0 L187.4,218.0 L188.1,218.8 L188.8,217.1 L189.6,217.6 L190.3,217.6 L191.0,216.9 L191.7,216.4 L192.4,218.7 L193.1,219.4 L193.8,219.8 L194.5,219.1 L195.2,221.1 L196.0,221.1 L196.7,221.7 L197.4,221.7 L198.1,220.4 L198.8,220.8 L199.5,219.8 L200.1,218.8 L200.8,215.4 L201.4,215.0 L202.1,212.2 L202.9,212.2 L203.6,211.3 L204.3,208.4 L205.0,208.0 L205.7,208.7 L206.4,209.3 L207.1,209.3 L207.9,206.9 L208.8,205.1 L209.6,203.6 L210.4,201.2 L211.1,199.5 L211.9,197.9 L212.7,195.7 L213.4,193.1 L214.1,189.7 L214.8,187.4 L215.4,187.4 L216.1,188.8 L216.7,188.4 L217.3,186.5 L218.0,187.3 L218.6,186.5 L219.2,188.7 L219.9,189.1 L220.5,191.2 L221.3,189.8 L222.2,190.7 L223.0,189.3 L223.9,186.4 L224.7,184.1 L225.6,182.7 L226.3,184.4 L227.1,186.5 L227.9,188.6 L228.6,188.6 L229.4,191.2 L230.2,191.1 L231.1,191.4 L231.9,192.2 L232.5,192.1 L233.2,190.1 L233.8,189.3 L234.4,189.6 L235.1,187.2 L235.7,187.4 L236.3,188.2 L237.0,190.3 L237.6,191.2 L238.2,193.2 L238.9,193.0 L239.5,194.1 L240.3,192.4 L241.2,191.2 L242.0,191.2" stroke="#00ff00" stroke-width="2.1" fill="none" stroke-linejoin="miter" stroke-linecap="butt" shape-rendering="crispEdges"/>
<rect x="435.5" y="27.5" width="184" height="39" fill="#000" stroke="#454545" stroke-width="1" shape-rendering="crispEdges"/>
<rect x="442" y="32" width="6" height="2" fill="#00c8ff"/>
<rect x="442" y="45" width="6" height="2" fill="#ff0000"/>
<rect x="442" y="59" width="6" height="2" fill="#00ff00"/>
<text class="mb" x="451.5" y="38.3" fill="#00c8ff" textLength="161.4" lengthAdjust="spacingAndGlyphs" xml:space="preserve">Oct 17 NY close 1284.80</text>
<text class="mb" x="451.5" y="50.3" fill="#ff0000" textLength="161.4" lengthAdjust="spacingAndGlyphs" xml:space="preserve">Oct 18 NY close 1280.50</text>
<text class="mb" x="451.5" y="63.1" fill="#00ff00" textLength="133.4" lengthAdjust="spacingAndGlyphs" xml:space="preserve">Oct 19 Last 1285.60</text>
<text class="mb" x="454" y="24" fill="#dcdcdc" textLength="154.4" lengthAdjust="spacingAndGlyphs" xml:space="preserve">October 19, 2017 07:37</text>
<text class="mb" x="19" y="17" fill="#dcdcdc" textLength="42.4" lengthAdjust="spacingAndGlyphs" xml:space="preserve">USD/oz</text>
<text class="mb" x="19" y="31.2" fill="#dcdcdc" textLength="42.4" lengthAdjust="spacingAndGlyphs" xml:space="preserve">1300.0</text>
<text class="mb" x="19" y="88.2" fill="#dcdcdc" textLength="42.4" lengthAdjust="spacingAndGlyphs" xml:space="preserve">1295.0</text>
<text class="mb" x="19" y="146.2" fill="#dcdcdc" textLength="42.4" lengthAdjust="spacingAndGlyphs" xml:space="preserve">1290.0</text>
<text class="mb" x="19" y="204.2" fill="#dcdcdc" textLength="42.4" lengthAdjust="spacingAndGlyphs" xml:space="preserve">1285.0</text>
<text class="mb" x="19" y="261.2" fill="#dcdcdc" textLength="42.4" lengthAdjust="spacingAndGlyphs" xml:space="preserve">1280.0</text>
<text class="mb" x="19" y="318.2" fill="#dcdcdc" textLength="42.4" lengthAdjust="spacingAndGlyphs" xml:space="preserve">1275.0</text>
<text class="mb" x="19" y="376.2" fill="#dcdcdc" textLength="42.4" lengthAdjust="spacingAndGlyphs" xml:space="preserve">1270.0</text>
<text class="ms" x="2.5" y="388" fill="#dcdcdc" textLength="42.4" lengthAdjust="spacingAndGlyphs" xml:space="preserve">NY Time</text>
<text class="ms" x="10.5" y="400" fill="#dcdcdc" textLength="18.4" lengthAdjust="spacingAndGlyphs" xml:space="preserve">GMT</text>
<text class="mb" x="47.5" y="387" fill="#dcdcdc" textLength="35.4" lengthAdjust="spacingAndGlyphs" xml:space="preserve">00:00</text>
<text class="mb" x="47.5" y="401" fill="#5c5c5c" textLength="35.4" lengthAdjust="spacingAndGlyphs" xml:space="preserve">04:00</text>
<text class="mb" x="139.5" y="387" fill="#dcdcdc" textLength="35.4" lengthAdjust="spacingAndGlyphs" xml:space="preserve">04:00</text>
<text class="mb" x="139.5" y="401" fill="#5c5c5c" textLength="35.4" lengthAdjust="spacingAndGlyphs" xml:space="preserve">08:00</text>
<text class="mb" x="232.5" y="387" fill="#dcdcdc" textLength="35.4" lengthAdjust="spacingAndGlyphs" xml:space="preserve">08:00</text>
<text class="mb" x="232.5" y="401" fill="#5c5c5c" textLength="35.4" lengthAdjust="spacingAndGlyphs" xml:space="preserve">12:00</text>
<text class="mb" x="324.5" y="387" fill="#dcdcdc" textLength="35.4" lengthAdjust="spacingAndGlyphs" xml:space="preserve">12:00</text>
<text class="mb" x="324.5" y="401" fill="#5c5c5c" textLength="35.4" lengthAdjust="spacingAndGlyphs" xml:space="preserve">16:00</text>
<text class="mb" x="416.5" y="387" fill="#dcdcdc" textLength="35.4" lengthAdjust="spacingAndGlyphs" xml:space="preserve">16:00</text>
<text class="mb" x="416.5" y="401" fill="#5c5c5c" textLength="35.4" lengthAdjust="spacingAndGlyphs" xml:space="preserve">20:00</text>
<text class="mb" x="508.5" y="387" fill="#dcdcdc" textLength="35.4" lengthAdjust="spacingAndGlyphs" xml:space="preserve">20:00</text>
<text class="mb" x="508.5" y="401" fill="#5c5c5c" textLength="35.4" lengthAdjust="spacingAndGlyphs" xml:space="preserve">00:00</text>
<text class="mb" x="589.5" y="387" fill="#dcdcdc" textLength="35.4" lengthAdjust="spacingAndGlyphs" xml:space="preserve">23:59</text>
<text class="mb" x="589.5" y="401" fill="#5c5c5c" textLength="35.4" lengthAdjust="spacingAndGlyphs" xml:space="preserve">03:59</text>
</svg></body></html>
